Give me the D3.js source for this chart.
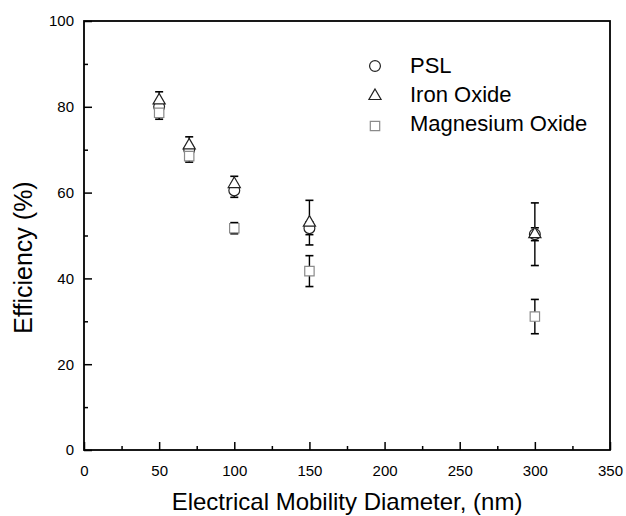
<!DOCTYPE html>
<html>
<head>
<meta charset="utf-8">
<script src="https://cdn.jsdelivr.net/npm/d3@7"></script>
<style>
  html, body { margin: 0; padding: 0; background: #fff; }
  svg { display: block; font-family: "Liberation Sans", Arial, sans-serif; }
</style>
</head>
<body>
<svg id="chart" width="626" height="516"></svg>
<script>
// diameters (nm) and efficiencies (%) with error half-widths
const pslX = [50, 70, 100, 150, 300];
const pslY = [80, 70, 60.5, 51.7, 50.3];
const pslErr = [0.8, 1, 1.6, 1.5, 1.5];

const ironX = [50, 70, 100, 150, 300];
const ironY = [81.5, 71, 62, 53, 50.3];
const ironErr = [2, 2, 1.8, 5.2, 7.3];

const mgoX = [50, 70, 100, 150, 300];
const mgoY = [78.6, 68.5, 51.7, 41.7, 31.1];
const mgoErr = [1.5, 1.4, 1.3, 3.6, 4];

const xTicks = [0, 50, 100, 150, 200, 250, 300, 350];
const yTicks = [0, 20, 40, 60, 80, 100];

const series = [
  { name: "PSL", xs: pslX, ys: pslY, err: pslErr, shape: d3.symbolCircle, size: 92, stroke: "#222" },
  { name: "Iron Oxide", xs: ironX, ys: ironY, err: ironErr, shape: d3.symbolTriangle, size: 64, stroke: "#222" },
  { name: "Magnesium Oxide", xs: mgoX, ys: mgoY, err: mgoErr, shape: d3.symbolSquare, size: 88, stroke: "#8a8a8a" },
];

const svg = d3.select("#chart");
const plotL = 84, plotR = 610, plotT = 21, plotB = 450;

const x = d3.scaleLinear().domain([0, 350]).range([plotL, plotR]);
const y = d3.scaleLinear().domain([0, 100]).range([plotB, plotT]);

// frame
svg.append("rect")
  .attr("x", plotL).attr("y", plotT)
  .attr("width", plotR - plotL).attr("height", plotB - plotT)
  .attr("fill", "none").attr("stroke", "#000").attr("stroke-width", 1.8);

// axes, ticks pointing inward
const xAxis = svg.append("g").attr("transform", `translate(0,${plotB})`)
  .call(d3.axisBottom(x).tickValues(xTicks).tickSize(-8).tickPadding(15));
const xMinor = svg.append("g").attr("transform", `translate(0,${plotB})`)
  .call(d3.axisBottom(x).tickValues(d3.range(25, 350, 50)).tickSize(-4).tickFormat(""));
const yAxis = svg.append("g").attr("transform", `translate(${plotL},0)`)
  .call(d3.axisLeft(y).tickValues(yTicks).tickSize(-8).tickPadding(10));
const yMinor = svg.append("g").attr("transform", `translate(${plotL},0)`)
  .call(d3.axisLeft(y).tickValues(d3.range(10, 100, 20)).tickSize(-4).tickFormat(""));

[xAxis, xMinor, yAxis, yMinor].forEach(g => {
  g.select(".domain").remove();
  g.selectAll(".tick line").attr("stroke", "#000").attr("stroke-width", 1.5);
  g.selectAll("text").attr("font-size", 15).attr("fill", "#000")
    .attr("font-family", "'Liberation Sans', Arial, sans-serif");
});

// error bars first, then hollow markers on top
const capW = 4;
series.forEach(s => {
  const g = svg.append("g");
  s.xs.forEach((xv, i) => {
    const cx = x(xv), lo = y(s.ys[i] - s.err[i]), hi = y(s.ys[i] + s.err[i]);
    g.append("line").attr("x1", cx).attr("x2", cx).attr("y1", lo).attr("y2", hi)
      .attr("stroke", "#000").attr("stroke-width", 1.4);
    [lo, hi].forEach(yy => g.append("line")
      .attr("x1", cx - capW).attr("x2", cx + capW).attr("y1", yy).attr("y2", yy)
      .attr("stroke", "#000").attr("stroke-width", 1.6));
  });
});

series.forEach(s => {
  svg.append("g").selectAll("path").data(s.xs).join("path")
    .attr("transform", (d, i) => `translate(${x(d)},${y(s.ys[i])})`)
    .attr("d", d3.symbol(s.shape, s.size))
    .attr("fill", "#fff").attr("stroke", s.stroke).attr("stroke-width", 1.2);
});

// legend
const legend = svg.append("g");
series.forEach((s, i) => {
  legend.append("path")
    .attr("transform", `translate(375,${66 + i * 30})`)
    .attr("d", d3.symbol(s.shape, s.size))
    .attr("fill", "#fff").attr("stroke", s.stroke).attr("stroke-width", 1.2);
  legend.append("text")
    .attr("x", 410).attr("y", 73 + i * 29)
    .attr("font-size", 22).attr("fill", "#000")
    .text(s.name);
});

// axis titles
svg.append("text")
  .attr("x", (plotL + plotR) / 2).attr("y", 510)
  .attr("text-anchor", "middle").attr("font-size", 24)
  .text("Electrical Mobility Diameter, (nm)");

svg.append("text")
  .attr("transform", `translate(32,${(plotT + plotB) / 2 + 22}) rotate(-90)`)
  .attr("text-anchor", "middle").attr("font-size", 25)
  .text("Efficiency (%)");
</script>
</body>
</html>
